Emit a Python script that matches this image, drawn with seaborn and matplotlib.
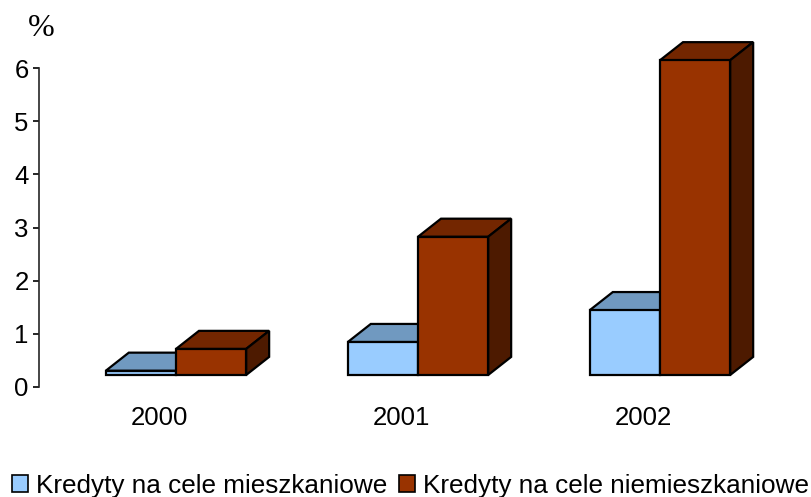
import pandas as pd
import matplotlib.pyplot as plt
import matplotlib.transforms as mtransforms
import seaborn as sns
from matplotlib.patches import Polygon

years = ['2000', '2001', '2002']
mieszkaniowe = [0.08, 0.62, 1.22]
niemieszkaniowe = [0.49, 2.60, 5.92]
series_names = ['Kredyty na cele mieszkaniowe', 'Kredyty na cele niemieszkaniowe']
y_ticks = [0, 1, 2, 3, 4, 5, 6]

FLOOR = 0.226     # bars stand a bit above the axis zero
DEPTH_X = 0.095
DEPTH_Y = 0.34

data = pd.DataFrame({
    'rok': years * 2,
    'seria': [series_names[0]] * 3 + [series_names[1]] * 3,
    'wartosc': mieszkaniowe + niemieszkaniowe,
})

sns.set_style('ticks')
plt.rcParams['font.family'] = ['Liberation Sans', 'DejaVu Sans']

fig = plt.figure(figsize=(8.11, 4.97), dpi=100)
ax = fig.add_axes([39 / 811, 1 - 387 / 497, (781 - 39) / 811, (387 - 68) / 497])

sns.barplot(data=data, x='rok', y='wartosc', hue='seria',
            palette=['#99ccff', '#993300'], saturation=1, width=0.58, gap=0,
            bottom=FLOOR, edgecolor='black', linewidth=1.6, legend=False,
            ax=ax, zorder=3, clip_on=False)

# fake 3D: top and side faces from each bar
tops = ['#7099c0', '#732600']
sides = ['#5c7d9e', '#4d1a00']
for i, container in enumerate(ax.containers):
    for bar in container:
        x0, x1 = bar.get_x(), bar.get_x() + bar.get_width()
        y0, y1 = bar.get_y(), bar.get_y() + bar.get_height()
        z = 2 + i * 2
        bar.set_zorder(z + 1)
        bar.set_clip_on(False)
        ax.add_patch(Polygon([(x0, y1), (x0 + DEPTH_X, y1 + DEPTH_Y),
                              (x1 + DEPTH_X, y1 + DEPTH_Y), (x1, y1)],
                             facecolor=tops[i], edgecolor='black', linewidth=1.6,
                             zorder=z, clip_on=False))
        ax.add_patch(Polygon([(x1, y0), (x1 + DEPTH_X, y0 + DEPTH_Y),
                              (x1 + DEPTH_X, y1 + DEPTH_Y), (x1, y1)],
                             facecolor=sides[i], edgecolor='black', linewidth=1.6,
                             zorder=z, clip_on=False))

ax.set_xlim(-0.566, 2.5)
ax.set_ylim(0, 6)
ax.set_yticks(y_ticks)
ax.set_xlabel('')
ax.set_ylabel('')
sns.despine(ax=ax, bottom=True)
ax.spines['left'].set_linewidth(1.2)
ax.tick_params(axis='y', length=4.5, width=1.2, labelsize=18.5, pad=3, color='black', labelcolor='black')
ax.tick_params(axis='x', length=0, labelsize=18.5, pad=14, labelcolor='black')

# year labels sit left of the bar pairs
shift = mtransforms.ScaledTranslation(-17 / 100, 0, fig.dpi_scale_trans)
for label in ax.get_xticklabels():
    label.set_transform(label.get_transform() + shift)

ax.text(-0.015, 1.1, '%', transform=ax.transAxes, family='Liberation Serif', fontsize=23,
        ha='left', va='baseline', color='black')

handles = [plt.Rectangle((0, 0), 1, 1, facecolor=c, edgecolor='black', linewidth=1.2)
           for c in ['#99ccff', '#993300']]
fig.legend(handles, series_names, loc='lower left', bbox_to_anchor=(12 / 811, -0.002), ncol=2,
           frameon=False, fontsize=18.8, handlelength=0.62, handleheight=0.62, handletextpad=0.3,
           columnspacing=0.45, borderpad=0, borderaxespad=0, labelcolor='black')

plt.savefig('out.png', dpi=100)
